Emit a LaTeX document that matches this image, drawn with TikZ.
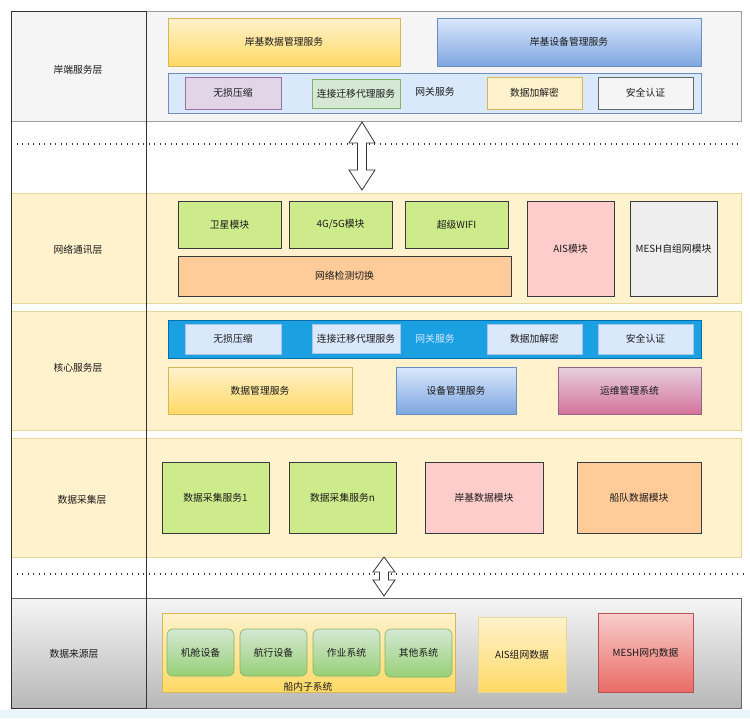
\documentclass[tikz,border=0pt]{standalone}
\usepackage{fontspec}
\setmainfont{Noto Sans CJK SC}
\definecolor{gF5}{HTML}{F5F5F5}
\definecolor{g9E}{HTML}{9E9E9E}
\definecolor{dk}{HTML}{333333}
\definecolor{ylF}{HTML}{FFF2CC}
\definecolor{ylD}{HTML}{FFD966}
\definecolor{ylB}{HTML}{D6B656}
\definecolor{ylL}{HTML}{E6D79A}
\definecolor{blF}{HTML}{DAE8FC}
\definecolor{blD}{HTML}{7EA6E0}
\definecolor{blB}{HTML}{6C8EBF}
\definecolor{puF}{HTML}{E1D5E7}
\definecolor{puB}{HTML}{9673A6}
\definecolor{grF}{HTML}{D5E8D4}
\definecolor{grD}{HTML}{97D077}
\definecolor{grB}{HTML}{82B366}
\definecolor{lime}{HTML}{CDEB8B}
\definecolor{bx36}{HTML}{36393D}
\definecolor{orF}{HTML}{FFCC99}
\definecolor{pkF}{HTML}{FFCCCC}
\definecolor{eeF}{HTML}{EEEEEE}
\definecolor{cyF}{HTML}{1BA1E2}
\definecolor{cyB}{HTML}{006EAF}
\definecolor{cyL}{HTML}{A9C4EB}
\definecolor{mgF}{HTML}{E6D0DE}
\definecolor{mgD}{HTML}{D5739D}
\definecolor{mgB}{HTML}{996185}
\definecolor{rdF}{HTML}{F8CECC}
\definecolor{rdD}{HTML}{EA6B66}
\definecolor{rdB}{HTML}{B85450}
\definecolor{g66}{HTML}{666666}
\definecolor{gB3}{HTML}{B8B8B8}
\definecolor{strip}{HTML}{EAF4FB}
\definecolor{txt}{HTML}{1A1A1A}
\newcommand\bx[7]{\node[#6, minimum width={(#4-#2)*1pt}, minimum height={(#5-#3)*1pt}] (#1) at ({(#2+#4)/2},{(#3+#5)/2}) {#7};}
\begin{document}
\begin{tikzpicture}[x=1pt,y=-1pt,
  font=\fontsize{9.8}{11}\selectfont,
  every node/.style={inner sep=0pt, outer sep=0pt, align=center, text=txt},
  ylayer/.style={draw=ylL, fill=ylF, line width=0.8pt},
  ygrad/.style={draw=ylB, top color=ylF, bottom color=ylD, line width=0.6pt},
  bgrad/.style={draw=blB, top color=blF, bottom color=blD, line width=0.6pt},
  limebox/.style={draw=bx36, fill=lime, line width=0.6pt},
  darkbox/.style={draw=bx36, line width=0.6pt},
  corebox/.style={draw=cyL, fill=blF, line width=0.6pt},
  dotline/.style={draw=dk, line width=1.3pt, dash pattern=on 1.3pt off 4.2pt},
  dblarrow/.style={draw=dk, fill=white, line width=0.8pt, line join=miter}
]
\fill[white] (0,0) rectangle (750,718);
\fill[strip] (0,710) rectangle (750,718);
% layers
\bx{Lshore}{11}{11}{741}{121}{draw=g9E, fill=gF5, line width=0.8pt}{}
\bx{Lnet}{11}{193}{741}{303}{ylayer}{}
\bx{Lcore}{11}{311}{741}{430}{ylayer}{}
\bx{Lcoll}{11}{438}{741}{557}{ylayer}{}
\bx{Lsrc}{11}{598}{741}{708}{draw=g66, top color=gF5, bottom color=gB3, line width=0.8pt}{}
\bx{Lcol}{11}{11}{146}{708}{draw=dk, line width=1pt}{}
% layer labels
\node (t1) at (78,70) {岸端服务层};
\node (t2) at (78,250) {网络通讯层};
\node (t3) at (78,368) {核心服务层};
\node (t4) at (82,500) {数据采集层};
\node (t5) at (74,654) {数据来源层};
% dotted separators
\coordinate (d1a) at (11,144); \coordinate (d1b) at (741,144);
\coordinate (d2a) at (11,574); \coordinate (d2b) at (745,574);
\draw[dotline] (d1a) -- (d1b);
\draw[dotline] (d2a) -- (d2b);
% shore layer
\bx{sData}{168}{18}{400}{66}{ygrad}{岸基数据管理服务}
\bx{sDev}{437}{18}{701}{66}{bgrad}{岸基设备管理服务}
\bx{sGw}{168}{73}{701}{113}{draw=blB, fill=blF, line width=0.6pt}{}
\node (sGwT) at (435,92) {网关服务};
\bx{sA}{185}{77}{281}{109}{draw=puB, fill=puF, line width=0.6pt}{无损压缩}
\bx{sB}{312}{79}{400}{108}{draw=grB, fill=grF, line width=0.6pt}{连接迁移代理服务}
\bx{sC}{487}{77}{582}{109}{draw=ylB, fill=ylF, line width=0.6pt}{数据加解密}
\bx{sD}{598}{77}{693}{109}{draw=g66, fill=gF5, line width=0.6pt}{安全认证}
% network layer
\bx{nSat}{178}{201}{281}{248}{limebox}{卫星模块}
\bx{n45}{289}{201}{392}{248}{limebox}{4G/5G模块}
\bx{nWifi}{405}{201}{508}{248}{limebox}{超级WIFI}
\bx{nSw}{178}{256}{511}{296}{darkbox, fill=orF}{网络检测切换}
\bx{nAis}{527}{201}{614}{296}{darkbox, fill=pkF}{AIS模块}
\bx{nMesh}{630}{201}{717}{296}{darkbox, fill=eeF}{MESH自组网模块}
% core layer
\bx{cGw}{168}{320}{701}{358}{draw=cyB, fill=cyF, line width=0.6pt}{}
\node[text=blF] (cGwT) at (435,339) {网关服务};
\bx{cA}{185}{324}{281}{354}{corebox}{无损压缩}
\bx{cB}{312}{324}{400}{353}{corebox}{连接迁移代理服务}
\bx{cC}{487}{324}{582}{354}{corebox}{数据加解密}
\bx{cD}{598}{324}{693}{354}{corebox}{安全认证}
\bx{cData}{168}{367}{352}{414}{ygrad}{数据管理服务}
\bx{cDev}{396}{367}{516}{414}{bgrad}{设备管理服务}
\bx{cOps}{558}{367}{701}{414}{draw=mgB, top color=mgF, bottom color=mgD, line width=0.6pt}{运维管理系统}
% collection layer
\bx{k1}{162}{462}{269}{533}{limebox}{数据采集服务1}
\bx{kn}{289}{462}{396}{533}{limebox}{数据采集服务n}
\bx{kShore}{425}{462}{543}{533}{darkbox, fill=pkF}{岸基数据模块}
\bx{kFleet}{577}{462}{701}{533}{darkbox, fill=orF}{船队数据模块}
% source layer
\bx{rShip}{162}{613}{455}{692}{ygrad}{}
\node (rShipT) at (308,687) {船内子系统};
\bx{r1}{167}{629}{234}{676}{draw=grB, top color=grF, bottom color=grD, line width=0.6pt, rounded corners=6pt}{机舱设备}
\bx{r2}{240}{629}{307}{676}{draw=grB, top color=grF, bottom color=grD, line width=0.6pt, rounded corners=6pt}{航行设备}
\bx{r3}{313}{629}{380}{676}{draw=grB, top color=grF, bottom color=grD, line width=0.6pt, rounded corners=6pt}{作业系统}
\bx{r4}{385}{629}{452}{677}{draw=grB, top color=grF, bottom color=grD, line width=0.6pt, rounded corners=6pt}{其他系统}
\bx{rAis}{478}{617}{566}{692}{draw=ylL, top color=ylF, bottom color=ylD, line width=0.6pt}{AIS组网数据}
\bx{rMesh}{598}{613}{693}{692}{draw=rdB, top color=rdF, bottom color=rdD, line width=0.6pt}{MESH网内数据}
% double arrows
\draw[dblarrow] (362,122) -- (375,143) -- (366.5,143) -- (366.5,170) -- (375,170) -- (362,190)
  -- (349,170) -- (357.5,170) -- (357.5,143) -- (349,143) -- cycle;
\draw[dblarrow] (384,557) -- (395,572) -- (388.5,572) -- (388.5,580) -- (395,580) -- (384,596)
  -- (373,580) -- (379.5,580) -- (379.5,572) -- (373,572) -- cycle;
\end{tikzpicture}
\end{document}
